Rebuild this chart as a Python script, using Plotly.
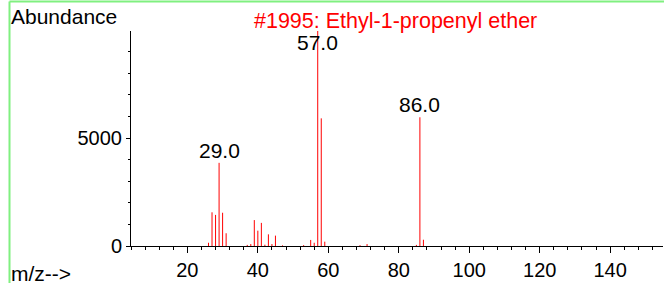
import plotly.graph_objects as go

# m/z values and abundances
mz = [26, 27, 28, 29, 30, 31, 37, 38, 39, 40, 41, 42, 43, 44, 45, 47,
      53, 55, 56, 57, 58, 59, 69, 71, 85, 86, 87]
abundance = [150, 1560, 1440, 3850, 1540, 590, 50, 90, 1200, 710, 1070, 60,
             540, 90, 480, 30, 40, 280, 150, 9999, 5910, 200, 40, 90, 50,
             5960, 290]

labeled_mz = [29, 57, 86]
label_cap = 8840  # labels are kept inside the plot top

x_ticks = [20, 40, 60, 80, 100, 120, 140]
y_ticks = [0, 5000]

title_text = "#1995: Ethyl-1-propenyl ether"
y_title = "Abundance"
x_title = "m/z-->"

FONT = "Liberation Sans, Arial, sans-serif"

xs, ys = [], []
for m, a in zip(mz, abundance):
    xs += [m, m, None]
    ys += [0, a, None]

fig = go.Figure()
fig.add_trace(go.Scatter(x=xs, y=ys, mode="lines",
                         line=dict(color="#ff0000", width=1),
                         hoverinfo="skip", showlegend=False))

W, H = 664, 283
ml, mr, mt, mb = 131, 1, 31, 37
pw, ph = W - ml - mr, H - mt - mb


def px_x(px):
    return (px - ml) / pw


def px_y(py):
    return (H - mb - py) / ph


annotations = []
for m in labeled_mz:
    a = abundance[mz.index(m)]
    annotations.append(dict(x=m, y=min(a, label_cap), xref="x", yref="y",
                            text=f"{m:.1f}", showarrow=False,
                            xanchor="center", yanchor="bottom", yshift=-1,
                            font=dict(family=FONT, size=21, color="black")))

annotations += [
    dict(x=px_x(395.5), y=px_y(21.5), xref="paper", yref="paper",
         text=title_text, showarrow=False, xanchor="center", yanchor="middle",
         font=dict(family=FONT, size=21.5, color="#ff0000")),
    dict(x=px_x(9), y=px_y(16.5), xref="paper", yref="paper",
         text=y_title, showarrow=False, xanchor="left", yanchor="middle",
         font=dict(family=FONT, size=21, color="black")),
    dict(x=px_x(9), y=px_y(273.5), xref="paper", yref="paper",
         text=x_title, showarrow=False, xanchor="left", yanchor="middle",
         font=dict(family=FONT, size=21, color="black")),
]

shapes = [
    dict(type="line", xref="paper", yref="paper",
         x0=px_x(9.5), x1=px_x(9.5), y0=px_y(1.5), y1=px_y(300),
         line=dict(color="#80f080", width=2)),
    dict(type="line", xref="paper", yref="paper",
         x0=px_x(9.5), x1=px_x(700), y0=px_y(1.5), y1=px_y(1.5),
         line=dict(color="#80f080", width=2)),
]

fig.update_layout(
    width=W, height=H,
    margin=dict(l=ml, r=mr, t=mt, b=mb),
    plot_bgcolor="white", paper_bgcolor="white",
    font=dict(family=FONT, size=20, color="black"),
    annotations=annotations, shapes=shapes,
    xaxis=dict(range=[4, 155], tickvals=x_ticks, ticktext=[str(v) for v in x_ticks],
               showgrid=False, zeroline=False, showline=True, linecolor="black",
               linewidth=1, ticks="outside", ticklen=6, tickcolor="black",
               tickfont=dict(family=FONT, size=20, color="black"),
               minor=dict(dtick=4, tick0=0, ticks="outside", ticklen=3,
                          tickcolor="black", showgrid=False)),
    yaxis=dict(range=[0, 9954], tickvals=y_ticks, ticktext=[str(v) for v in y_ticks],
               showgrid=False, zeroline=False, showline=True, linecolor="black",
               linewidth=1, ticks="outside", ticklen=4, tickcolor="black",
               tickfont=dict(family=FONT, size=20, color="black"),
               minor=dict(dtick=1000, tick0=0, ticks="outside", ticklen=2,
                          tickcolor="black", showgrid=False)),
)

fig.write_html("out.html", config={"displayModeBar": False},
               post_script="document.body.style.margin='0';document.body.style.overflow='hidden';")
